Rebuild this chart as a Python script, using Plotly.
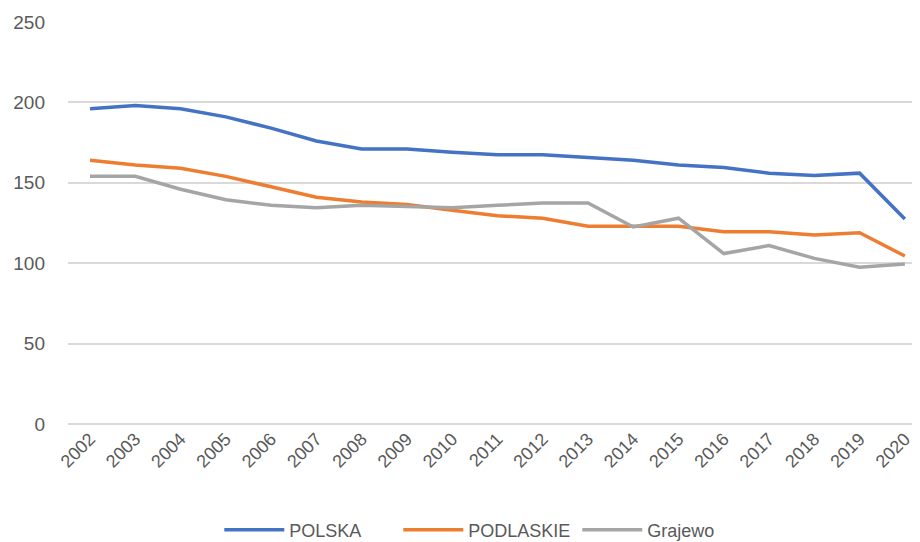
import plotly.graph_objects as go

years = [str(y) for y in range(2002, 2021)]
polska = [196, 198, 196, 191, 184, 176, 171, 171, 169, 167.5, 167.5, 166, 164, 161, 159.5, 156, 154.5, 156, 127.5]
podlaskie = [164, 161, 159, 154, 147.5, 141, 138, 136.5, 133, 129.5, 128, 123, 123, 123, 119.5, 119.5, 117.5, 119, 104.5]
grajewo = [154, 154, 146, 139.5, 136, 134.5, 136, 135, 134.5, 136, 137.5, 137.5, 122.5, 128, 106, 111, 103, 97.5, 99.5]

names = ["POLSKA", "PODLASKIE", "Grajewo"]
colors = ["#4472C4", "#ED7D31", "#A5A5A5"]

fig = go.Figure()
for name, vals, c in zip(names, [polska, podlaskie, grajewo], colors):
    fig.add_trace(go.Scatter(x=years, y=vals, name=name, mode="lines",
                             line=dict(color=c, width=3.5)))

fig.update_layout(
    width=912, height=534,
    margin=dict(l=60, r=2, t=14, b=118, autoexpand=False),
    paper_bgcolor="white", plot_bgcolor="white",
    font=dict(family="Liberation Sans, Arial, sans-serif", size=18, color="#595959"),
    xaxis=dict(type="category", range=[-0.486, 18.29], tickangle=-45, showgrid=False,
               showline=False, ticks="", tickfont=dict(size=18, color="#595959"),
               automargin=False),
    yaxis=dict(range=[0, 250], dtick=50, showgrid=True, gridcolor="#D9D9D9", gridwidth=1.6,
               zeroline=True, zerolinecolor="#D9D9D9", zerolinewidth=1.6,
               ticks="", ticklabelstandoff=22, tickfont=dict(size=19, color="#595959"),
               automargin=False),
    legend=dict(orientation="h", x=0.178, xanchor="left", y=-0.218, yanchor="top",
                font=dict(size=18, color="#595959"), itemwidth=60,
                entrywidth=104, entrywidthmode="pixels"),
    showlegend=True,
)

fig.write_html("out.html")
